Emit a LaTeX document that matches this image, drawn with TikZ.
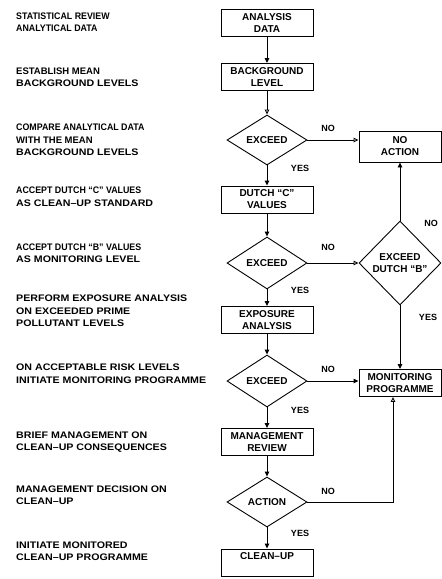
\documentclass[tikz,border=0pt]{standalone}
\usepackage{fontspec}
\setmainfont{Liberation Sans}[Ligatures=TeX]
\newfontfamily\nar{Liberation Sans}[Ligatures=TeX,FakeStretch=0.93]
\newfontfamily\wid{Liberation Sans}[Ligatures=TeX,FakeStretch=1.12]
\usetikzlibrary{shapes.geometric,arrows.meta,calc}
\begin{document}
\begin{tikzpicture}[x=1pt,y=-1pt,
  box/.style={draw, line width=0.9pt, minimum width=92pt, minimum height=27pt, inner sep=0pt, align=center, font=\fontsize{10}{12}\selectfont\bfseries},
  rbox/.style={box, minimum width=82pt},
  dia/.style={draw, diamond, line width=0.9pt, inner sep=0pt, minimum width=80pt, minimum height=52pt, align=center, font=\fontsize{10}{12}\selectfont\bfseries},
  lbl/.style={inner sep=0pt, font=\fontsize{9}{10}\selectfont\bfseries},
  desc/.style={anchor=west, align=left, inner sep=0pt, font=\fontsize{9.5}{12.5}\selectfont\bfseries},
  arr/.style={line width=0.9pt, -{Triangle[length=5pt,width=4.5pt]}},
  arro/.style={line width=0.9pt, -{Triangle[open,length=5pt,width=4.5pt]}}]
\useasboundingbox (0,0) rectangle (442,579);

% left descriptions
\node[desc] (t1) at (16,22) {{\nar STATISTICAL REVIEW}\\{\nar ANALYTICAL DATA}};
\node[desc] (t2) at (16,77) {ESTABLISH MEAN\\{\wid BACKGROUND LEVELS}};
\node[desc] (t3) at (16,140) {{\nar COMPARE ANALYTICAL DATA}\\WITH THE MEAN\\{\wid BACKGROUND LEVELS}};
\node[desc] (t4) at (16,196.5) {{\nar ACCEPT DUTCH ``C'' VALUES}\\{\wid AS CLEAN--UP STANDARD}};
\node[desc] (t5) at (16,253) {{\nar ACCEPT DUTCH ``B'' VALUES}\\{\wid AS MONITORING LEVEL}};
\node[desc] (t6) at (16,311) {{\wid PERFORM EXPOSURE ANALYSIS}\\{\wid ON EXCEEDED PRIME}\\{\wid POLLUTANT LEVELS}};
\node[desc] (t7) at (16,373.5) {{\wid ON ACCEPTABLE RISK LEVELS}\\{\wid INITIATE MONITORING PROGRAMME}};
\node[desc] (t8) at (16,442) {{\wid BRIEF MANAGEMENT ON}\\{\wid CLEAN--UP CONSEQUENCES}};
\node[desc] (t9) at (16,495) {{\wid MANAGEMENT DECISION ON}\\{\wid CLEAN--UP}};
\node[desc] (t10) at (16,551) {{\wid INITIATE MONITORED}\\{\wid CLEAN--UP PROGRAMME}};

% main column
\node[box] (ad) at (267,23) {ANALYSIS\\DATA};
\node[box] (bg) at (267,77) {BACKGROUND\\LEVEL};
\node[dia, minimum height=50pt] (d1) at (267,140) {EXCEED};
\node[box] (dc) at (267,199.5) {DUTCH ``C''\\VALUES};
\node[dia] (d2) at (267,263) {EXCEED};
\node[box] (ea) at (267,320) {EXPOSURE\\ANALYSIS};
\node[dia] (d3) at (267,381) {EXCEED};
\node[box] (mr) at (267,442) {MANAGEMENT\\REVIEW};
\node[dia, minimum height=50pt] (d4) at (267,502) {ACTION};
\node[box] (cu) at (267,562.5) {CLEAN--UP\\\phantom{X}};

% right column
\node[rbox, minimum height=31pt] (na) at (400,146.5) {NO\\ACTION};
\node[dia, minimum width=82pt, minimum height=84pt] (db) at (400,263) {EXCEED\\DUTCH ``B''};
\node[rbox] (mp) at (400,383) {MONITORING\\PROGRAMME};

% connectors
\draw[arr] (ad) -- (bg);
\draw[arro] (bg) -- (d1);
\draw[arr] (d1) -- (dc);
\draw[arro] (d1.east) -- (d1.east -| na.west);
\draw[arr] (dc) -- (d2);
\draw[arro] (d2.east) -- (db.west);
\draw[arr] (db.north) -- (na.south);
\draw[arr] (db.south) -- (mp.north);
\draw[arr] (d2) -- (ea);
\draw[arr] (ea) -- (d3);
\draw[arr] (d3.east) -- (d3.east -| mp.west);
\draw[arr] (d3) -- (mr);
\draw[arr] (mr) -- (d4);
\draw[arr] (d4) -- (cu);
\coordinate (mpin) at ($(mp.south)+(-7,0)$);
\draw[arro] (d4.east) -| (mpin);

% labels
\node[lbl] (n1) at (328,128) {NO};
\node[lbl] (y1) at (300,168) {YES};
\node[lbl] (n2) at (328,247) {NO};
\node[lbl] (y2) at (300,290) {YES};
\node[lbl] (n3) at (328,369) {NO};
\node[lbl] (y3) at (300,410) {YES};
\node[lbl] (n4) at (328,491) {NO};
\node[lbl] (y4) at (300,533) {YES};
\node[lbl] (nb) at (431,223) {NO};
\node[lbl] (yb) at (428,317) {YES};
\end{tikzpicture}
\end{document}
